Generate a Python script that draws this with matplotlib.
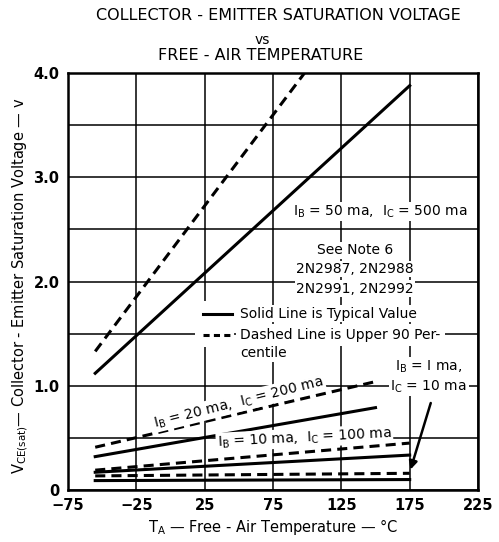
import matplotlib
matplotlib.use('Agg')
import matplotlib.pyplot as plt

# curve data: T_A in degC, V_CE(sat) in volts
temp_50_typ = [-55, 175]
vce_50_typ = [1.12, 3.88]
temp_50_max = [-55, 98]
vce_50_max = [1.33, 4.0]

temp_20 = [-55, 150]
vce_20_typ = [0.32, 0.79]
vce_20_max = [0.41, 1.04]

temp_10 = [-55, 175]
vce_10_typ = [0.17, 0.335]
vce_10_max = [0.19, 0.45]

temp_1 = [-55, 175]
vce_1_typ = [0.09, 0.10]
vce_1_max = [0.135, 0.16]

x_ticks = [-75, -25, 25, 75, 125, 175, 225]
y_grid = [0, 0.5, 1.0, 1.5, 2.0, 2.5, 3.0, 3.5, 4.0]
y_labels = ['0', '', '1.0', '', '2.0', '', '3.0', '', '4.0']

EM = '\u2014'
plt.rcParams['font.family'] = ['DejaVu Sans']
fig = plt.figure(figsize=(4.99, 5.42), dpi=100)
ax = fig.add_axes([0.136, 0.096, 0.822, 0.769])

lw = 2.2
dash = (3.3, 2.0)
ax.plot(temp_50_typ, vce_50_typ, color='black', lw=lw, zorder=3)
ax.plot(temp_50_max, vce_50_max, color='black', lw=lw, dashes=dash, zorder=3)
ax.plot(temp_20, vce_20_typ, color='black', lw=lw, zorder=3)
ax.plot(temp_20, vce_20_max, color='black', lw=lw, dashes=dash, zorder=3)
ax.plot(temp_10, vce_10_typ, color='black', lw=lw, zorder=3)
ax.plot(temp_10, vce_10_max, color='black', lw=lw, dashes=dash, zorder=3)
ax.plot(temp_1, vce_1_typ, color='black', lw=lw, zorder=3)
ax.plot(temp_1, vce_1_max, color='black', lw=lw, dashes=dash, zorder=3)

ax.set_xlim(-75, 225)
ax.set_ylim(0, 4.0)
ax.set_xticks(x_ticks)
ax.set_yticks(y_grid)
ax.set_yticklabels(y_labels)
ax.grid(True, color='black', lw=1.1, zorder=1)
ax.tick_params(length=0, labelsize=10.5, pad=6)
for lab in ax.get_xticklabels() + ax.get_yticklabels():
    lab.set_fontweight('bold')
for s in ax.spines.values():
    s.set_linewidth(1.8)

box = dict(facecolor='white', edgecolor='none', pad=1)
fs = 10
ax.text(90, 2.67, r'I$_{\mathregular{B}}$ = 50 ma,  I$_{\mathregular{C}}$ = 500 ma',
        fontsize=fs, va='center', ha='left', bbox=box, zorder=4)
ax.text(135, 2.30, 'See Note 6', fontsize=fs, va='center', ha='center', bbox=box, zorder=4)
ax.text(135, 2.12, '2N2987, 2N2988', fontsize=fs, va='center', ha='center', bbox=box, zorder=4)
ax.text(135, 1.93, '2N2991, 2N2992', fontsize=fs, va='center', ha='center', bbox=box, zorder=4)

# legend notes: white patch behind the keys, then the key lines on top
key_box = dict(facecolor='white', edgecolor='none', pad=4)
ax.text(22, 1.69, EM + EM, color='white', fontsize=fs, va='center', ha='left', bbox=key_box, zorder=4)
ax.text(22, 1.49, EM + EM, color='white', fontsize=fs, va='center', ha='left', bbox=key_box, zorder=4)
ax.plot([24, 45], [1.685, 1.685], color='black', lw=lw, zorder=5)
ax.plot([24, 45], [1.485, 1.485], color='black', lw=lw, dashes=(2.0, 1.4), zorder=5)
ax.text(51, 1.69, 'Solid Line is Typical Value', fontsize=fs,
        va='center', ha='left', bbox=box, zorder=4)
ax.text(51, 1.49, 'Dashed Line is Upper 90 Per-', fontsize=fs,
        va='center', ha='left', bbox=dict(facecolor='white', edgecolor='none', pad=3), zorder=4)
ax.text(51, 1.31, 'centile', fontsize=fs, va='center', ha='left', bbox=box, zorder=4)

ax.text(189, 1.18, r'I$_{\mathregular{B}}$ = I ma,', fontsize=fs, va='center', ha='center', bbox=box, zorder=4)
ax.text(189, 0.99, r'I$_{\mathregular{C}}$ = 10 ma', fontsize=fs, va='center', ha='center', bbox=box, zorder=4)
ax.text(50, 0.84, r'I$_{\mathregular{B}}$ = 20 ma,  I$_{\mathregular{C}}$ = 200 ma',
        fontsize=fs, va='center', ha='center', rotation=14, bbox=box, zorder=4)
ax.text(98, 0.50, r'I$_{\mathregular{B}}$ = 10 ma,  I$_{\mathregular{C}}$ = 100 ma',
        fontsize=fs, va='center', ha='center', rotation=3, bbox=box, zorder=4)
ax.annotate('', xy=(175, 0.17), xytext=(191, 0.86),
            arrowprops=dict(arrowstyle='-|>', color='black', lw=1.8, mutation_scale=12), zorder=4)

ax.set_xlabel(r'T$_{\mathregular{A}}$ ' + EM + ' Free - Air Temperature ' + EM + ' \u00b0C',
              fontsize=10.5, labelpad=3)
ax.set_ylabel(r'V$_{\mathregular{CE(sat)}}$' + EM + ' Collector - Emitter Saturation Voltage ' + EM + ' v',
              fontsize=10.5)
ax.yaxis.set_label_coords(-0.092, 0.49)

fig.text(0.557, 0.972, 'COLLECTOR - EMITTER SATURATION VOLTAGE', ha='center', va='center', fontsize=11.5)
fig.text(0.525, 0.927, 'vs', ha='center', va='center', fontsize=10)
fig.text(0.522, 0.898, 'FREE - AIR TEMPERATURE', ha='center', va='center', fontsize=11.5)

fig.savefig('out.png', dpi=100)
